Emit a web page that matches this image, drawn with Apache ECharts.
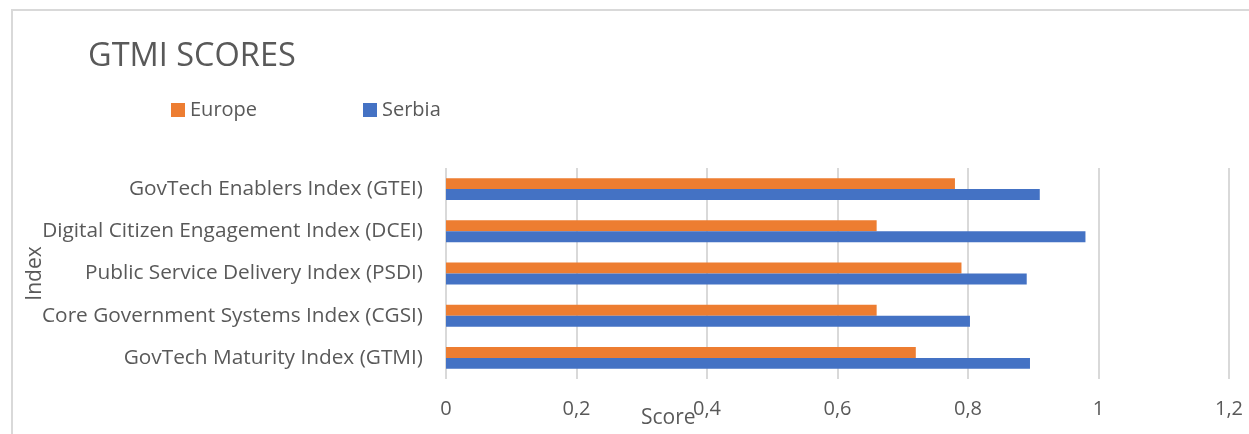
<!DOCTYPE html>
<html>
<head>
<meta charset="utf-8">
<style>
  html, body { margin: 0; padding: 0; background: #fff; }
  #chart { width: 1249px; height: 434px; }
</style>
<script src="https://cdn.jsdelivr.net/npm/echarts@6/dist/echarts.min.js"></script>
</head>
<body>
<div id="chart"></div>
<script>
// Index names, listed bottom to top along the category axis
const indices = [
  'GovTech Maturity Index (GTMI)',
  'Core Government Systems Index (CGSI)',
  'Public Service Delivery Index (PSDI)',
  'Digital Citizen Engagement Index (DCEI)',
  'GovTech Enablers Index (GTEI)'
];
const europeScores = [0.72, 0.66, 0.79, 0.66, 0.78];
const serbiaScores = [0.895, 0.803, 0.89, 0.98, 0.91];
const seriesNames = ['Europe', 'Serbia'];
const scoreTicks = [0, 0.2, 0.4, 0.6, 0.8, 1, 1.2];

const FONT = 'Open Sans';
const TEXT = '#595959';

const chart = echarts.init(document.getElementById('chart'), null, { renderer: 'canvas' });

const legendText = { fontFamily: FONT, fontSize: 20, color: TEXT };

chart.setOption({
  animation: false,
  textStyle: { fontFamily: FONT },
  title: {
    text: 'GTMI SCORES',
    left: 83, top: 35,
    textStyle: { fontFamily: FONT, fontSize: 32.5, fontWeight: 'normal', color: TEXT }
  },
  legend: [
    {
      data: [seriesNames[0]], left: 171, top: 100, padding: 0,
      itemWidth: 14, itemHeight: 14, itemGap: 0,
      icon: 'rect', textStyle: legendText
    },
    {
      data: [seriesNames[1]], left: 363, top: 100, padding: 0,
      itemWidth: 14, itemHeight: 14, itemGap: 0,
      icon: 'rect', textStyle: legendText
    }
  ],
  grid: { left: 446, right: 20, top: 168, bottom: 55, containLabel: false },
  xAxis: {
    type: 'value',
    min: scoreTicks[0],
    max: scoreTicks[scoreTicks.length - 1],
    interval: 0.2,
    axisLine: { show: false },
    axisTick: { show: false },
    splitLine: { lineStyle: { color: '#d9d9d9', width: 2 } },
    axisLabel: {
      margin: 20,
      fontFamily: FONT, fontSize: 20, color: TEXT,
      formatter: v => String(Math.round(v * 10) / 10).replace('.', ',')
    }
  },
  yAxis: {
    type: 'category',
    data: indices,
    name: 'Index',
    nameLocation: 'middle',
    nameMoveOverlap: false,
    nameGap: 400,
    nameRotate: 90,
    nameTextStyle: { fontFamily: FONT, fontSize: 21, color: TEXT },
    axisLine: { show: false },
    axisTick: { show: false },
    axisLabel: { margin: 23, fontFamily: FONT, fontSize: 20.8, color: TEXT }
  },
  graphic: [
    {
      type: 'rect', silent: true,
      shape: { x: 12, y: 10, width: 1300, height: 500 },
      style: { fill: 'none', stroke: '#d9d9d9', lineWidth: 2 }
    },
    {
      type: 'text', left: 641, top: 408,
      style: { text: 'Score', fontFamily: FONT, fontSize: 21, fill: TEXT }
    }
  ],
  series: [
    {
      name: seriesNames[0], type: 'bar', data: europeScores,
      barGap: '0%', barCategoryGap: '48%',
      itemStyle: { color: '#ED7D31' }
    },
    {
      name: seriesNames[1], type: 'bar', data: serbiaScores,
      barGap: '0%', barCategoryGap: '48%',
      itemStyle: { color: '#4472C4' }
    }
  ]
});
</script>
</body>
</html>
